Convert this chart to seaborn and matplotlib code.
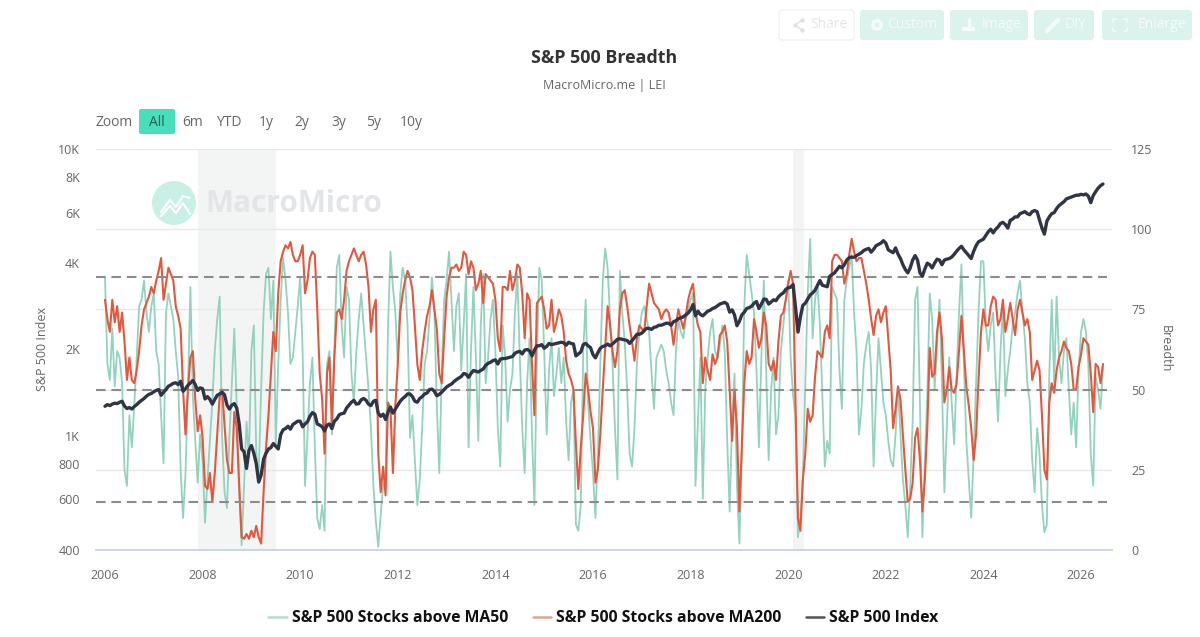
import matplotlib
matplotlib.use("Agg")
import matplotlib.pyplot as plt
import numpy as np
import pandas as pd
import seaborn as sns
from matplotlib.lines import Line2D
from matplotlib.patches import Circle, FancyBboxPatch, Rectangle

# One reading every 0.05 year starting at 2006.0; each row below is one calendar year
ma50_values = [
    85, 58, 53, 69, 51, 62, 60, 52, 25, 20, 42, 32, 45, 60, 76, 78, 84, 74, 68, 76,
    80, 62, 58, 42, 27, 74, 80, 76, 72, 62, 54, 25, 10, 24, 50, 82, 48, 34, 21, 36,
    28, 8.5, 22, 34, 46, 62, 72, 79, 35, 18, 13, 35, 52, 69, 44, 20, 1.5, 20, 40, 29,
    62, 70, 30, 24, 50, 74, 86, 88, 72, 84, 33, 58, 78, 91, 84, 74, 58, 60, 68, 76,
    85, 62, 20, 36, 52, 60, 32, 10, 6.5, 14, 6, 58, 62, 36, 62, 88, 92, 70, 60, 82,
    78, 55, 46, 62, 72, 80, 70, 60, 50, 38, 20, 9, 1, 11, 20, 22, 70, 93, 82, 74,
    58, 80, 88, 84, 70, 35, 42, 28, 14, 22, 38, 58, 62, 72, 85, 74, 45, 24, 55, 78,
    84, 93, 78, 62, 76, 80, 56, 70, 86, 32, 62, 82, 60, 34, 70, 86, 52, 60, 72, 78,
    62, 38, 26, 70, 60, 40, 50, 55, 74, 86, 60, 38, 24, 52, 66, 36, 14, 60, 88, 84,
    62, 36, 56, 66, 48, 55, 63, 52, 60, 40, 28, 46, 50, 8, 6, 14, 62, 78, 46, 34,
    24, 10, 30, 58, 84, 94, 88, 72, 58, 38, 22, 87, 74, 65, 50, 30, 26, 38, 58, 68,
    74, 76, 72, 68, 55, 44, 60, 62, 64, 62, 56, 52, 46, 42, 62, 72, 68, 66, 72, 75,
    78, 80, 20, 40, 60, 16, 50, 60, 68, 72, 62, 60, 64, 70, 62, 34, 12, 40, 55, 20,
    2, 32, 76, 92, 86, 80, 74, 56, 32, 60, 84, 55, 28, 50, 60, 36, 42, 62, 70, 78,
    84, 60, 48, 42, 4, 10, 22, 52, 80, 97, 66, 78, 83, 70, 48, 26, 34, 30, 82, 80,
    78, 56, 44, 78, 84, 88, 92, 74, 62, 36, 44, 58, 64, 68, 56, 26, 48, 66, 56, 46,
    42, 34, 28, 26, 36, 51, 36, 22, 14, 4, 20, 40, 78, 82, 45, 4, 28, 48, 80, 72,
    50, 64, 78, 52, 18, 38, 60, 46, 33, 54, 74, 89, 58, 34, 22, 10, 30, 52, 74, 90,
    90, 70, 62, 70, 74, 54, 40, 62, 76, 48, 56, 62, 70, 74, 80, 84, 74, 66, 52, 46,
    28, 18, 38, 30, 14, 5.5, 8, 55, 78, 52, 79, 60, 52, 62, 66, 50, 36, 46, 32, 56,
    68, 72, 68, 58, 30, 20, 54, 50, 44, 57,
]
ma200_values = [
    78, 72, 68, 78, 71, 76, 68, 74, 65, 53, 60, 53, 52, 56, 62, 70, 75, 77, 79, 82,
    80, 84, 87, 91, 78, 83, 88, 86, 84, 76, 73, 69, 50, 36, 50, 60, 62, 47, 37, 42,
    35, 20, 19, 24, 15, 24, 36, 48, 50, 39, 28, 24, 24, 43, 38, 20, 4, 3.5, 5, 3.5,
    6, 4, 7.5, 4, 2, 18, 32, 42, 55, 68, 62, 80, 90, 93, 95, 94, 96, 92, 90, 90,
    92, 95, 80, 84, 91, 93, 92, 75, 55, 47, 30, 55, 60, 39, 60, 74, 75, 72, 78, 87,
    90, 92, 94, 92, 90, 92, 93, 89, 82, 68, 75, 78, 30, 18, 26, 17, 46, 44, 24, 45,
    58, 74, 80, 84, 87, 85, 81, 70, 58, 53, 62, 68, 73, 76, 81, 75, 69, 55, 52, 66,
    79, 85, 88, 88, 89, 87, 88, 93, 92, 86, 90, 88, 81, 83, 87, 77, 86, 85, 84, 83,
    78, 66, 62, 82, 82, 81, 87, 81, 84, 89, 88, 80, 66, 80, 78, 58, 42, 77, 78, 79,
    75, 69, 70, 78, 68, 71, 75, 73, 68, 59, 55, 53, 50, 33, 19, 32, 42, 55, 50, 43,
    38, 21, 25, 36, 50, 63, 76, 70, 62, 57, 62, 75, 80, 81, 76, 70, 65, 59, 66, 70,
    69, 68, 76, 83, 80, 77, 76, 75, 72, 74, 75, 74, 70, 64, 70, 75, 72, 69, 73, 78,
    81, 83, 74, 70, 68, 52, 60, 56, 53, 61, 58, 60, 67, 68, 70, 65, 50, 34, 50, 38,
    12, 32, 52, 62, 58, 60, 72, 68, 63, 66, 74, 70, 58, 56, 59, 53, 65, 73, 74, 78,
    83, 87, 83, 45, 10, 6, 22, 30, 44, 40, 42, 54, 62, 61, 60, 68, 70, 66, 90, 92,
    92, 91, 90, 83, 86, 92, 97, 93, 90, 91, 91, 87, 83, 78, 72, 67, 73, 75, 71, 74,
    76, 66, 56, 38, 44, 51, 47, 36, 25, 15, 16, 21, 35, 38, 28, 12, 22, 38, 63, 54,
    55, 68, 74, 66, 46, 50, 57, 50, 49, 52, 62, 73, 62, 51, 45, 38, 28, 36, 53, 68,
    75, 70, 70, 76, 79, 78, 70, 72, 78, 68, 72, 77, 72, 67, 75, 78, 74, 70, 72, 68,
    53, 56, 59, 56, 42, 25, 22, 46, 52, 49, 56, 60, 62, 65, 63, 62, 58, 50, 50, 57,
    61, 66, 65, 64, 55, 43, 58, 57, 52, 58,
]
index_values = [
    1268, 1285, 1275, 1290, 1300, 1295, 1310, 1320, 1270, 1245, 1255, 1240, 1265, 1285, 1310, 1330, 1350, 1375, 1395, 1405,
    1425, 1440, 1450, 1385, 1420, 1450, 1490, 1505, 1525, 1530, 1510, 1550, 1430, 1460, 1500, 1530, 1560, 1510, 1440, 1470,
    1460, 1345, 1370, 1340, 1290, 1340, 1385, 1400, 1420, 1390, 1280, 1240, 1280, 1295, 1250, 1100, 900, 880, 770, 890,
    925, 870, 800, 690, 730, 830, 870, 900, 910, 940, 920, 900, 1010, 1050, 1060, 1080, 1055, 1095, 1110, 1125,
    1125, 1075, 1100, 1120, 1170, 1205, 1190, 1100, 1090, 1075, 1040, 1090, 1100, 1060, 1125, 1145, 1185, 1195, 1200, 1250,
    1280, 1310, 1330, 1290, 1295, 1335, 1350, 1330, 1290, 1275, 1320, 1330, 1200, 1170, 1190, 1140, 1210, 1260, 1200, 1240,
    1280, 1320, 1350, 1370, 1400, 1400, 1370, 1320, 1310, 1350, 1370, 1400, 1410, 1450, 1455, 1430, 1380, 1395, 1420, 1450,
    1480, 1500, 1515, 1545, 1570, 1590, 1610, 1650, 1640, 1600, 1650, 1690, 1680, 1670, 1690, 1710, 1760, 1790, 1805, 1830,
    1840, 1780, 1850, 1860, 1860, 1870, 1880, 1890, 1940, 1960, 1970, 1930, 1990, 2000, 1980, 1900, 1990, 2060, 2060, 2080,
    2020, 2050, 2100, 2080, 2090, 2100, 2110, 2120, 2110, 2070, 2120, 2100, 2090, 1900, 1930, 1960, 2080, 2100, 2060, 2030,
    1920, 1870, 1950, 2020, 2050, 2060, 2090, 2060, 2090, 2130, 2170, 2180, 2170, 2160, 2150, 2100, 2150, 2200, 2260, 2260,
    2280, 2330, 2370, 2370, 2350, 2390, 2400, 2430, 2430, 2450, 2470, 2470, 2430, 2500, 2520, 2560, 2580, 2600, 2640, 2680,
    2750, 2870, 2620, 2720, 2650, 2620, 2670, 2720, 2740, 2780, 2800, 2840, 2880, 2900, 2920, 2880, 2700, 2750, 2640, 2420,
    2510, 2640, 2700, 2780, 2800, 2830, 2900, 2940, 2780, 2880, 3000, 2990, 2880, 2930, 2980, 2960, 3050, 3110, 3150, 3240,
    3280, 3300, 3370, 2800, 2300, 2600, 2850, 2900, 3000, 3100, 3150, 3220, 3350, 3480, 3350, 3330, 3310, 3600, 3650, 3700,
    3800, 3900, 3850, 3950, 4100, 4180, 4200, 4190, 4250, 4300, 4350, 4430, 4470, 4500, 4370, 4470, 4600, 4650, 4700, 4790,
    4700, 4450, 4400, 4350, 4520, 4300, 4150, 3950, 3800, 3700, 3850, 4100, 4250, 4100, 3700, 3600, 3820, 4000, 3950, 3850,
    4000, 4130, 4100, 3950, 4100, 4130, 4150, 4200, 4290, 4400, 4500, 4580, 4450, 4350, 4250, 4150, 4400, 4600, 4750, 4800,
    4850, 5000, 5150, 5250, 5100, 5250, 5350, 5500, 5550, 5450, 5300, 5640, 5700, 5800, 5800, 5950, 6000, 6050, 5950, 5900,
    6050, 6100, 6050, 5650, 5300, 5050, 5600, 5800, 5950, 6000, 6200, 6350, 6450, 6550, 6700, 6750, 6800, 6850, 6900, 6900,
    6950, 6920, 6970, 6850, 6500, 6880, 7100, 7300, 7450, 7550,
]

recession_spans = [(2007.91, 2009.50), (2020.10, 2020.33)]
threshold_levels = [85, 50, 15]

year_ticks = list(range(2006, 2027, 2))
breadth_ticks = [0, 25, 50, 75, 100, 125]
index_ticks = [400, 600, 800, 1000, 2000, 4000, 6000, 8000, 10000]
index_tick_labels = ["400", "600", "800", "1K", "2K", "4K", "6K", "8K", "10K"]
range_labels = ["6m", "YTD", "1y", "2y", "3y", "5y", "10y"]
range_centers = [193, 229, 266, 302, 339, 374, 411]
# label, button left, button width, label left
toolbar = [("Share", 779, 75, 810), ("Custom", 860, 84, 887), ("Image", 950, 78, 982),
           ("DIY", 1034, 60, 1065), ("Enlarge", 1102, 90, 1138)]

GREEN, RED, NAVY = "#93d2bd", "#e2583e", "#2f3545"
TEXT_GRAY = "#666666"

sns.set_theme(style="white")
plt.rcParams["font.family"] = ["Open Sans", "DejaVu Sans"]

W, H = 1200, 637
fig = plt.figure(figsize=(W / 100, H / 100), dpi=100, facecolor="white")


def fx(px):
    return px / W


def fy(py):
    return 1 - py / H


def series_frame(values):
    years = 2006 + np.arange(len(values)) * 0.05
    return pd.DataFrame({"year": years, "value": values})


# Breadth sits on the right-hand scale, the index on a log scale drawn above it
ax = fig.add_axes([fx(96), fy(550), fx(1112 - 96), (550 - 149) / H])
ax_idx = ax.twinx()

for start, end in recession_spans:
    ax.axvspan(start, end, color="#f3f4f4", lw=0, zorder=0)

sns.lineplot(data=series_frame(ma50_values), x="year", y="value", ax=ax, color=GREEN, lw=1.3,
             estimator=None, sort=False, zorder=3)
sns.lineplot(data=series_frame(ma200_values), x="year", y="value", ax=ax, color=RED, lw=1.5,
             estimator=None, sort=False, zorder=4)
for level in threshold_levels:
    ax.plot([2005.82, 2026.54], [level, level], color="#8c8c8c", lw=1.5, ls=(0, (4.6, 2.8)), zorder=5)

sns.lineplot(data=series_frame(index_values), x="year", y="value", ax=ax_idx, color=NAVY, lw=2.4,
             estimator=None, sort=False, zorder=6)

ax.set_xlim(2005.816, 2026.635)
ax.set_ylim(0, 125)
ax_idx.set_yscale("log")
ax_idx.set_ylim(400, 10000)

ax.yaxis.tick_right()
ax.yaxis.set_label_position("right")
ax_idx.yaxis.tick_left()
ax_idx.yaxis.set_label_position("left")

ax.set_xticks(year_ticks)
ax.set_xticklabels(year_ticks)
ax.set_yticks(breadth_ticks)
ax.grid(axis="y", color="#e8e8e8", lw=1)
ax.set_axisbelow(True)
ax_idx.set_yticks(index_ticks)
ax_idx.set_yticklabels(index_tick_labels)
ax_idx.minorticks_off()
ax_idx.grid(False)

ax.tick_params(axis="x", length=7, width=0.8, color="#ccd6eb", labelcolor=TEXT_GRAY, labelsize=9, pad=6.5)
ax.tick_params(axis="y", length=0, labelcolor=TEXT_GRAY, labelsize=9, pad=13.7)
ax_idx.tick_params(axis="y", length=0, labelcolor=TEXT_GRAY, labelsize=9, pad=11.5)

for a in (ax, ax_idx):
    for side, spine in a.spines.items():
        spine.set_visible(side == "bottom")
    a.spines["bottom"].set_color("#ccd6eb")
    a.set_xlabel("")
    a.set_ylabel("")

fig.text(fx(42), fy(349), "S&P 500 Index", rotation=90, ha="center", va="center", fontsize=9, color=TEXT_GRAY)
fig.text(fx(1165), fy(349), "Breadth", rotation=270, ha="center", va="center", fontsize=9, color=TEXT_GRAY)

# Titles
fig.text(fx(604), fy(58), "S&P 500 Breadth", ha="center", va="center", fontsize=12.9, fontweight="bold", color="#333333")
fig.text(fx(604), fy(85), "MacroMicro.me | LEI", ha="center", va="center", fontsize=9, color=TEXT_GRAY)

# Overlay in pixel coordinates for the watermark and the page controls
ui = fig.add_axes([0, 0, 1, 1], zorder=2)
ui.set_xlim(0, W)
ui.set_ylim(H, 0)
ui.axis("off")
ui.patch.set_alpha(0)

ui.add_patch(Circle((174, 203), 22, color="#c9f0e5", lw=0))
ui.plot([161, 170, 176, 183, 190], [212, 200, 207, 196, 198], color="white", lw=1.5)
ui.plot([161, 170, 176, 183, 190], [216, 206, 213, 203, 214], color="white", lw=1.5)
ui.text(205, 204, "MacroMicro", ha="left", va="center", fontsize=21.5, fontweight="bold", color="#e3e5e8")

# Range selector
ui.text(114, 122, "Zoom", ha="center", va="center", fontsize=10, color=TEXT_GRAY)
ui.add_patch(FancyBboxPatch((139, 109), 36, 25, boxstyle="round,pad=0,rounding_size=2", fc="#47dfbb", ec="none"))
ui.text(157, 122, "All", ha="center", va="center", fontsize=10, color="#2f5d50")
for label, cx in zip(range_labels, range_centers):
    ui.text(cx, 122, label, ha="center", va="center", fontsize=10, color=TEXT_GRAY)

# Faded toolbar buttons with small pictograms
ICON = "#f3fbf8"
for i, (label, left, width, text_left) in enumerate(toolbar):
    shared = i == 0
    ui.add_patch(FancyBboxPatch((left, 10), width, 30, boxstyle="round,pad=0,rounding_size=3",
                                fc="white" if shared else "#dcf2ec", ec="#eeeeee" if shared else "none", lw=0.8))
    ui.text(text_left, 25, label, ha="left", va="center", fontsize=10, color="#e6e6e6" if shared else "#f4fbf9")

ui.plot([802, 795, 802], [20, 25, 30], color="#e2e2e2", lw=1, marker="o", ms=3.2, mew=0)
ui.add_patch(Circle((877, 25), 6, color=ICON, lw=0))
ui.add_patch(Circle((877, 25), 2, color="#dcf2ec", lw=0))
ui.add_patch(Rectangle((962, 27), 13, 4, color=ICON, lw=0))
ui.plot([968.5, 968.5], [19, 27], color=ICON, lw=2.5)
ui.plot([1047, 1058], [31, 20], color=ICON, lw=3)
for sx, sy in [(-1, -1), (1, -1), (-1, 1), (1, 1)]:
    cx, cy = 1120 + sx * 7, 25 + sy * 6
    ui.plot([cx, cx, cx - sx * 3], [cy - sy * 3, cy, cy], color=ICON, lw=1.2)

# Legend
legend_handles = [Line2D([], [], color=c, lw=1.8) for c in ("#b7dccf", "#dba795", "#4d5260")]
legend_labels = ["S&P 500 Stocks above MA50", "S&P 500 Stocks above MA200", "S&P 500 Index"]
fig.legend(legend_handles, legend_labels, ncol=3, loc="center", bbox_to_anchor=(fx(603.5), fy(618)), frameon=False,
           prop={"family": "Open Sans", "weight": "bold", "size": 11.3}, labelcolor="#111111",
           handlelength=1.15, handletextpad=0.35, columnspacing=1.55)

fig.savefig("out.png", dpi=100)
